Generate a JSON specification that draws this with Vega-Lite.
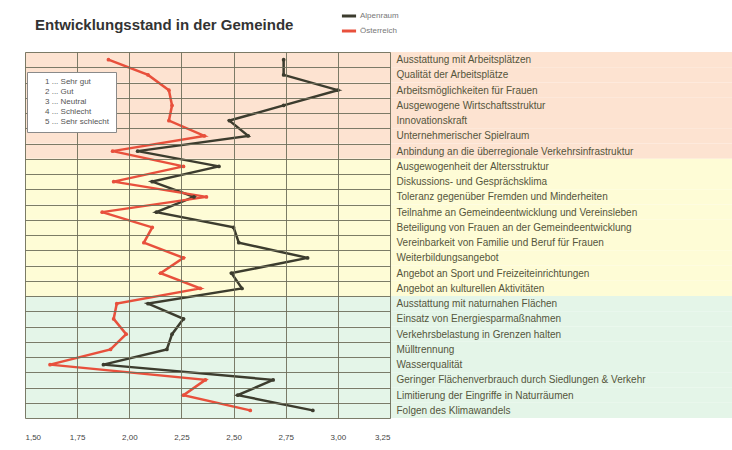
{
  "$schema": "https://vega.github.io/schema/vega-lite/v6.json",
  "width": 365,
  "height": 366,
  "autosize": {"type": "none"},
  "padding": {"left": 25, "top": 52, "right": 342, "bottom": 32},
  "background": "white",
  "title": {
    "text": "Entwicklungsstand in der Gemeinde",
    "anchor": "start",
    "dx": 10,
    "offset": -26,
    "font": "Liberation Sans",
    "fontSize": 15,
    "fontWeight": "bold",
    "color": "#333333"
  },
  "datasets": {
    "kategorien": [
      {"nr": 1, "kategorie": "Ausstattung mit Arbeitsplätzen", "gruppe": "Wirtschaft"},
      {"nr": 2, "kategorie": "Qualität der Arbeitsplätze", "gruppe": "Wirtschaft"},
      {"nr": 3, "kategorie": "Arbeitsmöglichkeiten für Frauen", "gruppe": "Wirtschaft"},
      {"nr": 4, "kategorie": "Ausgewogene Wirtschaftsstruktur", "gruppe": "Wirtschaft"},
      {"nr": 5, "kategorie": "Innovationskraft", "gruppe": "Wirtschaft"},
      {"nr": 6, "kategorie": "Unternehmerischer Spielraum", "gruppe": "Wirtschaft"},
      {"nr": 7, "kategorie": "Anbindung an die überregionale Verkehrsinfrastruktur", "gruppe": "Wirtschaft"},
      {"nr": 8, "kategorie": "Ausgewogenheit der Altersstruktur", "gruppe": "Soziales"},
      {"nr": 9, "kategorie": "Diskussions- und Gesprächsklima", "gruppe": "Soziales"},
      {"nr": 10, "kategorie": "Toleranz gegenüber Fremden und Minderheiten", "gruppe": "Soziales"},
      {"nr": 11, "kategorie": "Teilnahme an Gemeindeentwicklung und Vereinsleben", "gruppe": "Soziales"},
      {"nr": 12, "kategorie": "Beteiligung von Frauen an der Gemeindeentwicklung", "gruppe": "Soziales"},
      {"nr": 13, "kategorie": "Vereinbarkeit von Familie und Beruf für Frauen", "gruppe": "Soziales"},
      {"nr": 14, "kategorie": "Weiterbildungsangebot", "gruppe": "Soziales"},
      {"nr": 15, "kategorie": "Angebot an Sport und Freizeiteinrichtungen", "gruppe": "Soziales"},
      {"nr": 16, "kategorie": "Angebot an kulturellen Aktivitäten", "gruppe": "Soziales"},
      {"nr": 17, "kategorie": "Ausstattung mit naturnahen Flächen", "gruppe": "Umwelt"},
      {"nr": 18, "kategorie": "Einsatz von Energiesparmaßnahmen", "gruppe": "Umwelt"},
      {"nr": 19, "kategorie": "Verkehrsbelastung in Grenzen halten", "gruppe": "Umwelt"},
      {"nr": 20, "kategorie": "Mülltrennung", "gruppe": "Umwelt"},
      {"nr": 21, "kategorie": "Wasserqualität", "gruppe": "Umwelt"},
      {"nr": 22, "kategorie": "Geringer Flächenverbrauch durch Siedlungen & Verkehr", "gruppe": "Umwelt"},
      {"nr": 23, "kategorie": "Limitierung der Eingriffe in Naturräumen", "gruppe": "Umwelt"},
      {"nr": 24, "kategorie": "Folgen des Klimawandels", "gruppe": "Umwelt"}
    ],
    "werte": [
      {"nr": 1, "kategorie": "Ausstattung mit Arbeitsplätzen", "region": "Alpenraum", "wert": 2.74},
      {"nr": 2, "kategorie": "Qualität der Arbeitsplätze", "region": "Alpenraum", "wert": 2.74},
      {"nr": 3, "kategorie": "Arbeitsmöglichkeiten für Frauen", "region": "Alpenraum", "wert": 3.0},
      {"nr": 4, "kategorie": "Ausgewogene Wirtschaftsstruktur", "region": "Alpenraum", "wert": 2.74},
      {"nr": 5, "kategorie": "Innovationskraft", "region": "Alpenraum", "wert": 2.48},
      {"nr": 6, "kategorie": "Unternehmerischer Spielraum", "region": "Alpenraum", "wert": 2.57},
      {"nr": 7, "kategorie": "Anbindung an die überregionale Verkehrsinfrastruktur", "region": "Alpenraum", "wert": 2.04},
      {"nr": 8, "kategorie": "Ausgewogenheit der Altersstruktur", "region": "Alpenraum", "wert": 2.43},
      {"nr": 9, "kategorie": "Diskussions- und Gesprächsklima", "region": "Alpenraum", "wert": 2.11},
      {"nr": 10, "kategorie": "Toleranz gegenüber Fremden und Minderheiten", "region": "Alpenraum", "wert": 2.31},
      {"nr": 11, "kategorie": "Teilnahme an Gemeindeentwicklung und Vereinsleben", "region": "Alpenraum", "wert": 2.13},
      {"nr": 12, "kategorie": "Beteiligung von Frauen an der Gemeindeentwicklung", "region": "Alpenraum", "wert": 2.5},
      {"nr": 13, "kategorie": "Vereinbarkeit von Familie und Beruf für Frauen", "region": "Alpenraum", "wert": 2.525},
      {"nr": 14, "kategorie": "Weiterbildungsangebot", "region": "Alpenraum", "wert": 2.855},
      {"nr": 15, "kategorie": "Angebot an Sport und Freizeiteinrichtungen", "region": "Alpenraum", "wert": 2.49},
      {"nr": 16, "kategorie": "Angebot an kulturellen Aktivitäten", "region": "Alpenraum", "wert": 2.54},
      {"nr": 17, "kategorie": "Ausstattung mit naturnahen Flächen", "region": "Alpenraum", "wert": 2.09},
      {"nr": 18, "kategorie": "Einsatz von Energiesparmaßnahmen", "region": "Alpenraum", "wert": 2.26},
      {"nr": 19, "kategorie": "Verkehrsbelastung in Grenzen halten", "region": "Alpenraum", "wert": 2.205},
      {"nr": 20, "kategorie": "Mülltrennung", "region": "Alpenraum", "wert": 2.18},
      {"nr": 21, "kategorie": "Wasserqualität", "region": "Alpenraum", "wert": 1.876},
      {"nr": 22, "kategorie": "Geringer Flächenverbrauch durch Siedlungen & Verkehr", "region": "Alpenraum", "wert": 2.69},
      {"nr": 23, "kategorie": "Limitierung der Eingriffe in Naturräumen", "region": "Alpenraum", "wert": 2.52},
      {"nr": 24, "kategorie": "Folgen des Klimawandels", "region": "Alpenraum", "wert": 2.88},
      {"nr": 1, "kategorie": "Ausstattung mit Arbeitsplätzen", "region": "Österreich", "wert": 1.9},
      {"nr": 2, "kategorie": "Qualität der Arbeitsplätze", "region": "Österreich", "wert": 2.09},
      {"nr": 3, "kategorie": "Arbeitsmöglichkeiten für Frauen", "region": "Österreich", "wert": 2.19},
      {"nr": 4, "kategorie": "Ausgewogene Wirtschaftsstruktur", "region": "Österreich", "wert": 2.205},
      {"nr": 5, "kategorie": "Innovationskraft", "region": "Österreich", "wert": 2.19},
      {"nr": 6, "kategorie": "Unternehmerischer Spielraum", "region": "Österreich", "wert": 2.36},
      {"nr": 7, "kategorie": "Anbindung an die überregionale Verkehrsinfrastruktur", "region": "Österreich", "wert": 1.92},
      {"nr": 8, "kategorie": "Ausgewogenheit der Altersstruktur", "region": "Österreich", "wert": 2.26},
      {"nr": 9, "kategorie": "Diskussions- und Gesprächsklima", "region": "Österreich", "wert": 1.925},
      {"nr": 10, "kategorie": "Toleranz gegenüber Fremden und Minderheiten", "region": "Österreich", "wert": 2.37},
      {"nr": 11, "kategorie": "Teilnahme an Gemeindeentwicklung und Vereinsleben", "region": "Österreich", "wert": 1.87},
      {"nr": 12, "kategorie": "Beteiligung von Frauen an der Gemeindeentwicklung", "region": "Österreich", "wert": 2.11},
      {"nr": 13, "kategorie": "Vereinbarkeit von Familie und Beruf für Frauen", "region": "Österreich", "wert": 2.07},
      {"nr": 14, "kategorie": "Weiterbildungsangebot", "region": "Österreich", "wert": 2.26},
      {"nr": 15, "kategorie": "Angebot an Sport und Freizeiteinrichtungen", "region": "Österreich", "wert": 2.15},
      {"nr": 16, "kategorie": "Angebot an kulturellen Aktivitäten", "region": "Österreich", "wert": 2.34},
      {"nr": 17, "kategorie": "Ausstattung mit naturnahen Flächen", "region": "Österreich", "wert": 1.94},
      {"nr": 18, "kategorie": "Einsatz von Energiesparmaßnahmen", "region": "Österreich", "wert": 1.925},
      {"nr": 19, "kategorie": "Verkehrsbelastung in Grenzen halten", "region": "Österreich", "wert": 1.985},
      {"nr": 20, "kategorie": "Mülltrennung", "region": "Österreich", "wert": 1.91},
      {"nr": 21, "kategorie": "Wasserqualität", "region": "Österreich", "wert": 1.62},
      {"nr": 22, "kategorie": "Geringer Flächenverbrauch durch Siedlungen & Verkehr", "region": "Österreich", "wert": 2.365},
      {"nr": 23, "kategorie": "Limitierung der Eingriffe in Naturräumen", "region": "Österreich", "wert": 2.26},
      {"nr": 24, "kategorie": "Folgen des Klimawandels", "region": "Österreich", "wert": 2.58}
    ],
    "skala": [
      {"skala": "1 ... Sehr gut"},
      {"skala": "2 ... Gut"},
      {"skala": "3 ... Neutral"},
      {"skala": "4 ... Schlecht"},
      {"skala": "5 ... Sehr schlecht"}
    ]
  },
  "layer": [
    {
      "data": {"name": "kategorien"},
      "mark": {"type": "rect"},
      "encoding": {
        "y": {
          "field": "kategorie",
          "type": "nominal",
          "scale": {
            "domain": [
              "Ausstattung mit Arbeitsplätzen",
              "Qualität der Arbeitsplätze",
              "Arbeitsmöglichkeiten für Frauen",
              "Ausgewogene Wirtschaftsstruktur",
              "Innovationskraft",
              "Unternehmerischer Spielraum",
              "Anbindung an die überregionale Verkehrsinfrastruktur",
              "Ausgewogenheit der Altersstruktur",
              "Diskussions- und Gesprächsklima",
              "Toleranz gegenüber Fremden und Minderheiten",
              "Teilnahme an Gemeindeentwicklung und Vereinsleben",
              "Beteiligung von Frauen an der Gemeindeentwicklung",
              "Vereinbarkeit von Familie und Beruf für Frauen",
              "Weiterbildungsangebot",
              "Angebot an Sport und Freizeiteinrichtungen",
              "Angebot an kulturellen Aktivitäten",
              "Ausstattung mit naturnahen Flächen",
              "Einsatz von Energiesparmaßnahmen",
              "Verkehrsbelastung in Grenzen halten",
              "Mülltrennung",
              "Wasserqualität",
              "Geringer Flächenverbrauch durch Siedlungen & Verkehr",
              "Limitierung der Eingriffe in Naturräumen",
              "Folgen des Klimawandels"
            ],
            "paddingInner": 0,
            "paddingOuter": 0
          },
          "axis": {
            "orient": "right",
            "title": null,
            "tickBand": "extent",
            "grid": true,
            "gridColor": "#6e6e5a",
            "gridWidth": 1,
            "gridOpacity": 0.9,
            "ticks": false,
            "domain": false,
            "labelPadding": 6,
            "labelFont": "Liberation Sans",
            "labelFontSize": 10,
            "labelColor": "#55553c",
            "labelLimit": 500,
            "zindex": 1
          }
        },
        "x": {"datum": 1.5, "type": "quantitative"},
        "x2": {"datum": 4.9},
        "fill": {
          "field": "gruppe",
          "type": "nominal",
          "scale": {"domain": ["Wirtschaft", "Soziales", "Umwelt"], "range": ["#fde3d1", "#fefcd6", "#e4f5e8"]},
          "legend": null
        }
      }
    },
    {
      "data": {"name": "werte"},
      "mark": {"type": "line", "strokeWidth": 2.5, "point": {"filled": true, "size": 14}},
      "encoding": {
        "y": {"field": "kategorie", "type": "nominal"},
        "x": {
          "field": "wert",
          "type": "quantitative",
          "scale": {"domain": [1.5, 3.25], "nice": false, "zero": false},
          "axis": {
            "title": null,
            "values": [1.5, 1.75, 2.0, 2.25, 2.5, 2.75, 3.0, 3.25],
            "labelExpr": "replace(format(datum.value, '.2f'), '.', ',')",
            "grid": true,
            "gridColor": "#6e6e5a",
            "gridOpacity": 0.9,
            "ticks": false,
            "domain": false,
            "labelPadding": 15,
            "labelFont": "Liberation Sans",
            "labelFontSize": 8,
            "labelColor": "#444444",
            "zindex": 1
          }
        },
        "order": {"field": "nr", "type": "quantitative"},
        "color": {
          "field": "region",
          "type": "nominal",
          "scale": {"domain": ["Alpenraum", "Österreich"], "range": ["#3c3c2e", "#e8503c"]},
          "legend": {
            "orient": "none",
            "legendX": 315,
            "legendY": -45,
            "title": null,
            "symbolType": "stroke",
            "symbolStrokeWidth": 3,
            "symbolSize": 200,
            "labelFont": "Liberation Sans",
            "labelFontSize": 8,
            "labelColor": "#777777",
            "labelOffset": 2,
            "rowPadding": -2
          }
        }
      }
    },
    {
      "data": {"name": "skala"},
      "mark": {"type": "point", "opacity": 0},
      "encoding": {
        "shape": {
          "field": "skala",
          "type": "nominal",
          "legend": {
            "orient": "none",
            "legendX": 2,
            "legendY": 20,
            "title": null,
            "fillColor": "white",
            "strokeColor": "#8a8a8a",
            "padding": 6,
            "symbolSize": 0,
            "symbolOpacity": 0,
            "labelOffset": 4,
            "labelFont": "Liberation Sans",
            "labelFontSize": 8,
            "labelColor": "#555555",
            "rowPadding": 2,
            "zindex": 2
          }
        }
      }
    }
  ],
  "config": {
    "view": {"stroke": null}
  }
}
